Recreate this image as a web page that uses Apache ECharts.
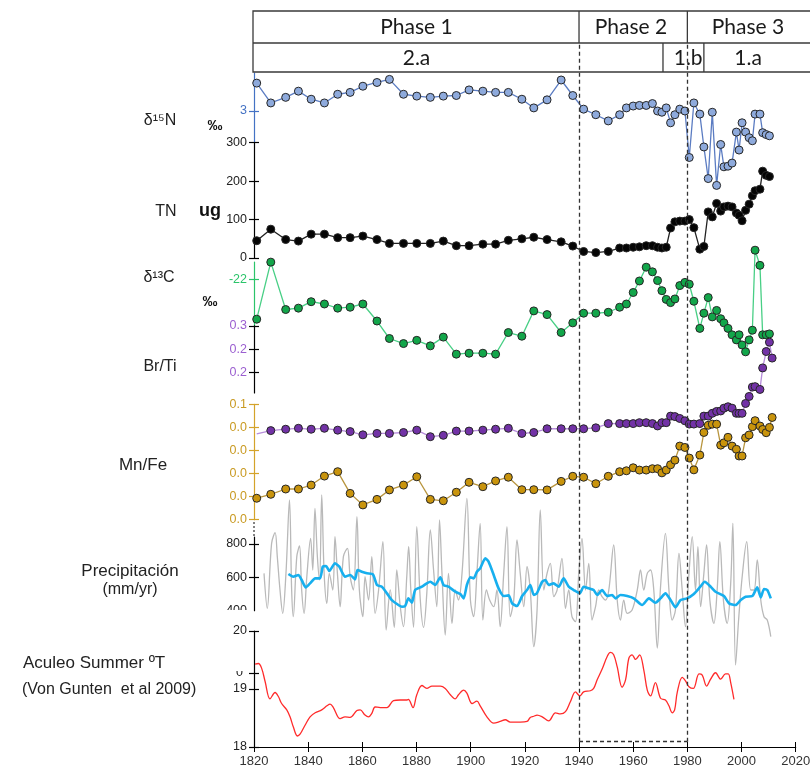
<!DOCTYPE html>
<html><head><meta charset="utf-8">
<script src="https://cdn.jsdelivr.net/npm/echarts@6/dist/echarts.min.js"></script>
<style>html,body{margin:0;padding:0;background:#fff}#c{width:810px;height:767px}</style>
</head><body><div id="c"></div>
<script>
// ---- core sample ages (shared by the isotope, TN and XRF records) ----
const coreYears = [1821.0,1826.2,1831.7,1836.4,1841.1,1846.0,1850.9,1855.5,1860.2,1865.4,1870.0,1875.2,1880.1,1885.1,1889.9,1894.7,1899.4,1904.5,1909.2,1913.9,1918.9,1923.3,
  1928.2,1933.4,1937.7,1941.7,1946.2,1950.8,1955.0,1957.5,1960.0,1962.3,1964.8,1967.1,1969.0,1970.6,1972.2,1973.8,1975.4,1977.2,1979.1,1980.7,
  1982.4,1984.6,1986.1,1987.7,1989.2,1990.8,1992.3,1993.5,1995.0,1996.5,1998.1,1999.1,2000.2,2001.5,2002.8,2004.0,2005.0,2006.8,2007.8,2009.1,2010.3];
const xrfYears = coreYears.concat([2011.3]);

const d15N = [3.45,3.13,3.22,3.32,3.19,3.13,3.27,3.30,3.40,3.46,3.51,3.27,3.24,3.22,3.24,3.25,3.34,3.32,3.30,3.30,3.19,3.05,
  3.18,3.50,3.25,3.03,2.94,2.84,2.94,3.05,3.08,3.09,3.09,3.12,3.00,2.98,3.05,2.81,2.94,3.03,3.00,2.25,
  3.13,2.95,2.42,1.91,2.98,1.80,2.46,2.10,2.11,2.16,2.66,2.37,2.81,2.66,2.57,2.52,2.95,2.95,2.65,2.62,2.60];
const tn = [45,75,48,44,62,62,53,53,57,48,38,38,38,38,44,32,32,36,36,46,50,54,
  48,42,31,17,14,17,26,26,28,29,32,32,28,26,28,78,94,96,96,100,
  79,23,30,120,107,142,122,133,135,133,117,111,97,124,140,162,175,179,226,215,212];
const d13C = [-22.86,-21.62,-22.65,-22.62,-22.48,-22.53,-22.62,-22.60,-22.53,-22.90,-23.28,-23.39,-23.32,-23.44,-23.25,-23.62,-23.60,-23.60,-23.62,-23.15,-23.23,-22.68,
  -22.76,-23.15,-22.94,-22.73,-22.73,-22.71,-22.60,-22.53,-22.28,-22.03,-21.73,-21.83,-22.02,-22.24,-22.43,-22.50,-22.42,-22.13,-22.06,-22.10,
  -22.47,-23.06,-22.73,-22.39,-22.81,-22.67,-22.85,-22.94,-23.06,-23.20,-23.31,-23.20,-23.42,-23.57,-23.31,-23.10,-21.36,-21.69,-23.20,-23.20,-23.18];
const brTi = [0.019,0.026,0.029,0.031,0.029,0.031,0.027,0.024,0.017,0.020,0.020,0.022,0.027,0.013,0.016,0.025,0.025,0.027,0.029,0.031,0.020,0.022,
  0.030,0.030,0.030,0.030,0.032,0.041,0.041,0.041,0.041,0.043,0.043,0.041,0.036,0.043,0.043,0.057,0.056,0.052,0.047,0.040,
  0.040,0.041,0.057,0.057,0.063,0.067,0.068,0.074,0.077,0.074,0.063,0.063,0.063,0.084,0.099,0.119,0.120,0.114,0.160,0.195,0.215,0.181];
const mnFe = [0.0093,0.0110,0.0133,0.0133,0.0150,0.0189,0.0208,0.0114,0.0064,0.0088,0.0129,0.0150,0.0186,0.0088,0.0082,0.0119,0.0162,0.0143,0.0168,0.0184,0.0130,0.0130,
  0.0129,0.0166,0.0188,0.0184,0.0156,0.0188,0.0208,0.0212,0.0225,0.0215,0.0215,0.0221,0.0221,0.0203,0.0215,0.0238,0.0258,0.0319,0.0313,0.0267,
  0.0216,0.0280,0.0378,0.0409,0.0414,0.0414,0.0323,0.0333,0.0357,0.0319,0.0305,0.0276,0.0276,0.0355,0.0367,0.0403,0.0429,0.0406,0.0391,0.0377,0.0400,0.0443];

// ---- Santiago annual precipitation (mm/yr) and its running mean ----
const precipYears = [1823.7,1824.9,1826.5,1827.8,1828.6,1829.6,1830.6,1831.8,1833.1,1833.9,1834.5,1835.8,1836.8,1837.6,1838.5,1839.5,1840.9,1841.7,1842.5,1843.4,1844.2,1845.0,1845.9,1846.9,1847.8,1849.1,1849.9,1850.8,1851.8,1853.0,1854.5,1855.5,1856.7,1858.0,1858.9,1860.2,1861.0,1862.3,1863.5,1864.7,1866.0,1867.6,1868.8,1870.3,1871.8,1872.7,1874.0,1875.2,1876.4,1877.1,1877.9,1878.9,1880.1,1881.4,1882.6,1883.8,1885.1,1886.3,1887.5,1888.5,1889.4,1890.6,1891.8,1893.1,1894.3,1895.5,1896.8,1898.6,1899.9,1901.1,1902.3,1903.5,1904.5,1905.8,1907.0,1908.5,1909.7,1910.9,1912.2,1913.4,1914.6,1915.9,1917.1,1918.3,1919.6,1920.8,1922.0,1923.3,1924.5,1925.7,1927.0,1928.2,1929.4,1930.7,1931.9,1933.7,1935.0,1936.2,1937.4,1938.7,1939.9,1941.1,1942.4,1943.6,1944.8,1946.1,1947.3,1948.5,1949.8,1951.0,1952.8,1954.1,1955.3,1956.5,1957.8,1959.6,1961.5,1962.7,1963.9,1965.2,1966.4,1967.6,1968.9,1970.1,1971.9,1973.2,1974.4,1975.6,1976.9,1978.1,1979.3,1980.6,1981.8,1983.0,1983.9,1984.9,1986.1,1987.1,1988.3,1989.8,1991.0,1992.0,1993.3,1994.7,1996.0,1996.8,1997.8,1999.0,2000.3,2001.9,2003.4,2004.6,2005.8,2007.1,2008.3,2009.5,2010.8];
const precipValues = [624,414,804,868,724,524,384,624,1064,524,364,724,788,524,384,604,834,644,1014,724,584,1094,624,444,624,524,844,624,424,724,774,604,524,964,524,364,604,464,724,384,524,814,284,524,300,644,424,304,604,784,524,300,904,464,300,504,884,644,424,944,624,254,624,324,524,464,624,1074,464,364,624,924,344,524,464,424,524,304,624,904,364,464,824,624,424,664,524,184,400,1004,524,624,684,484,524,714,414,524,364,334,624,834,524,684,344,424,524,484,464,524,794,464,344,464,384,404,524,644,524,624,644,524,176,544,864,524,344,404,744,524,304,624,844,524,784,424,624,794,464,324,524,814,464,324,564,924,74,364,614,814,524,524,704,464,364,344,244];
const maYears = [1832.7,1834.5,1836.4,1837.6,1839.1,1840.7,1842.6,1844.4,1845.4,1846.6,1847.8,1849.9,1851.5,1852.4,1853.6,1855.5,1857.3,1858.2,1859.8,1861.7,1863.9,1865.4,1867.2,1869.1,1870.9,1872.8,1874.6,1875.8,1877.0,1878.3,1879.5,1882.0,1883.8,1885.1,1886.9,1888.8,1890.0,1891.8,1894.3,1896.2,1897.4,1898.6,1899.9,1901.1,1902.3,1903.5,1905.4,1906.6,1908.5,1910.3,1912.2,1914.0,1915.3,1917.1,1919.0,1920.8,1922.0,1923.3,1924.4,1926.4,1927.6,1928.8,1930.6,1932.5,1934.3,1936.2,1938.0,1940.3,1941.7,1943.6,1945.4,1946.7,1948.5,1950.4,1952.2,1953.5,1955.3,1957.8,1960.2,1963.3,1965.8,1968.2,1970.1,1971.9,1973.8,1975.6,1977.5,1979.9,1982.4,1984.8,1986.4,1988.6,1990.4,1993.5,1995.4,1997.8,1999.7,2001.5,2004.0,2005.8,2007.1,2008.3,2009.5,2010.8];
const maValues = [620,604,614,584,540,564,594,594,664,668,638,684,664,634,604,614,588,644,634,624,618,554,544,504,464,440,424,428,474,448,524,544,564,574,554,600,554,544,514,500,474,554,600,594,634,654,714,694,614,534,488,492,444,428,488,524,554,494,504,574,584,554,564,544,594,544,524,504,544,534,524,494,524,488,494,474,494,488,474,434,474,448,474,504,464,420,464,474,500,544,574,544,514,488,444,434,464,484,488,540,480,530,524,474];

// ---- Aculeo summer temperature reconstruction (°C) ----
const tempYears = [1820.4,1821.6,1822.8,1824.1,1825.9,1827.8,1829.0,1830.2,1832.1,1833.3,1834.5,1836.0,1837.0,1838.9,1840.7,1842.6,1845.0,1846.9,1848.1,1849.3,1851.8,1853.6,1855.5,1858.0,1859.2,1861.0,1862.3,1863.5,1864.7,1866.6,1869.1,1871.5,1874.0,1876.5,1877.0,1878.7,1880.1,1882.0,1883.8,1885.7,1888.8,1890.6,1892.5,1894.3,1895.5,1897.4,1898.6,1900.5,1902.3,1903.5,1906.0,1908.5,1910.9,1912.8,1914.6,1918.3,1920.8,1922.0,1923.3,1924.5,1926.4,1928.8,1931.3,1933.1,1935.0,1936.8,1938.7,1940.3,1941.7,1944.2,1945.4,1946.7,1948.5,1950.4,1951.6,1952.8,1954.1,1955.9,1957.2,1958.4,1959.6,1960.9,1962.4,1963.9,1965.2,1966.4,1968.2,1970.1,1971.9,1973.2,1974.4,1975.3,1976.3,1978.1,1979.3,1980.6,1982.2,1984.3,1985.5,1987.1,1988.6,1990.4,1992.3,1994.1,1995.1,1996.0,1997.2];
const tempValues = [19.43,19.44,19.36,19.13,18.83,18.94,18.87,18.75,18.64,18.52,18.35,18.19,18.22,18.38,18.52,18.59,18.64,18.71,18.74,18.68,18.49,18.52,18.51,18.63,18.64,18.55,18.52,18.58,18.69,18.68,18.68,18.80,18.81,18.81,18.82,18.68,18.90,19.06,19.01,19.05,19.05,19.01,18.90,18.83,18.90,18.98,18.93,18.75,18.79,18.71,18.52,18.41,18.44,18.47,18.43,18.43,18.44,18.51,18.53,18.55,18.52,18.45,18.59,18.57,18.61,18.78,18.95,18.88,18.95,18.97,19.01,19.16,19.34,19.56,19.63,19.59,19.38,19.03,19.16,19.53,19.59,19.51,19.59,19.33,18.98,18.88,19.11,18.84,18.81,18.71,18.59,18.64,18.95,19.20,19.14,19.04,19.01,19.26,19.24,19.05,19.17,19.28,19.17,19.26,19.26,19.11,18.82];

// ---- header: phases and units, dashed box limits ----
const phaseNames = ['Phase 1', 'Phase 2', 'Phase 3'];
const phaseLabelYears = [1880, 1959.2, 2002.4];
const phaseBreaks = [1940, 1980];
const unitNames = ['2.a', '1.b', '1.a'];
const unitLabelYears = [1880, 1980.3, 2002.4];
const unitBreaks = [1971.0, 1986.1];

const pairs = (xs, ys) => xs.map((x, i) => [x, ys[i]]);
const dec1 = v => (Math.round(v * 10 + 1e-9) / 10).toFixed(1);
const AX = 'Liberation Sans, Arial, sans-serif';

// stacked panels (pixel layout)
const L = 254, W = 541.7;
const panels = [
  {top: 73,    h: 69,    min: 2.5,     max: 3.613,   color: '#4472c4', lab: '#4472c4', ticks: [3], labels: [3], fmt: () => '3'},
  {top: 142.7, h: 115.3, min: 0,       max: 300,     color: '#000',    lab: '#222',    ticks: [0, 100, 200, 300], labels: [0, 100, 200, 300]},
  {top: 262,   h: 65,    min: -23.03,  max: -21.617, color: '#2bc46a', lab: '#2bc46a', ticks: [-22], labels: [-22]},
  {top: 325.8, h: 67.2,  min: 0.1064,  max: 0.25,    color: '#000',    lab: '#9b5fd0', ticks: [0.15, 0.2, 0.25], labels: [0.15, 0.2, 0.25], fmt: dec1},
  {top: 404.3, h: 115.4, min: 0,       max: 0.05,    color: '#d4a32a', lab: '#c99a22', ticks: [0, 0.01, 0.02, 0.03, 0.04, 0.05], labels: [0, 0.01, 0.02, 0.03, 0.04, 0.05], fmt: dec1},
  {top: 537,   h: 73.7,  min: 400,     max: 842,     color: '#000',    lab: '#222',    ticks: [600, 800], labels: [400, 600, 800]},
  {top: 631,   h: 116,   min: 18,      max: 20,      color: '#000',    lab: '#222',    ticks: [18, 19, 19.28, 20], labels: [18, 19, 20]},
  {top: 43,    h: 698.7, min: 0,       max: 1,       overlay: true}
];

const grid = [], xAxis = [], yAxis = [];
panels.forEach((p, g) => {
  grid.push({left: L, width: W, top: p.top, height: p.h, containLabel: false, outerBoundsMode: 'none'});
  const bottom = g === 6;
  xAxis.push({
    type: 'value', gridIndex: g, min: 1820, max: 2020, interval: 20, show: bottom,
    axisLine: {show: bottom, onZero: false, lineStyle: {color: '#000', width: 1.2}},
    axisTick: {show: bottom, length: 5, lineStyle: {color: '#000'}},
    axisLabel: {show: bottom, color: '#333', fontSize: 13, fontFamily: AX, margin: 8, formatter: v => String(v)},
    splitLine: {show: false}
  });
  if (p.overlay) {
    yAxis.push({type: 'value', gridIndex: g, min: 0, max: 1, show: false});
    return;
  }
  yAxis.push({
    type: 'value', gridIndex: g, min: p.min, max: p.max, position: 'left',
    axisLine: {show: true, onZero: false, lineStyle: {color: p.color, width: 1.2}},
    axisTick: {show: true, length: 5, customValues: p.ticks, lineStyle: {color: p.color, width: 1.2}},
    axisLabel: {customValues: p.labels, formatter: p.fmt, color: p.lab, fontSize: 12.5, fontFamily: AX, margin: 7},
    splitLine: {show: false}
  });
  // inner half of the cross tick marks
  yAxis.push({
    type: 'value', gridIndex: g, min: p.min, max: p.max, position: 'left',
    axisLine: {show: false},
    axisTick: {show: true, inside: true, length: 5, customValues: p.ticks, lineStyle: {color: p.color, width: 1.2}},
    axisLabel: {show: false}, splitLine: {show: false}
  });
});
// inner half of the year ticks
xAxis.push({
  type: 'value', gridIndex: 6, min: 1820, max: 2020, interval: 20, position: 'bottom',
  axisLine: {show: false}, axisTick: {show: true, inside: true, length: 5, lineStyle: {color: '#000'}},
  axisLabel: {show: false}, splitLine: {show: false}
});

const dotted = (name, g, xs, ys, line, fill, extra) => Object.assign({
  name, type: 'line', xAxisIndex: g, yAxisIndex: g * 2, data: pairs(xs, ys), clip: false,
  symbol: 'circle', symbolSize: 8, showSymbol: true,
  lineStyle: {color: line, width: 1.3},
  itemStyle: {color: fill, borderColor: '#262626', borderWidth: 1},
  z: 4
}, extra || {});

const brTiData = pairs(xrfYears, brTi);
brTiData[0] = {value: brTiData[0], symbol: 'none'};

const series = [
  {name: 'Precipitación', type: 'line', xAxisIndex: 5, yAxisIndex: 10, data: pairs(precipYears, precipValues),
   clip: false, symbol: 'none', smooth: 0.35, lineStyle: {color: '#b9b9b9', width: 1.3}, z: 1},
  {name: 'Precipitación media', type: 'line', xAxisIndex: 5, yAxisIndex: 10, data: pairs(maYears, maValues),
   clip: false, symbol: 'none', smooth: 0.2, lineStyle: {color: '#17afee', width: 2.6}, z: 2},
  {name: 'Aculeo Summer T', type: 'line', xAxisIndex: 6, yAxisIndex: 12, data: pairs(tempYears, tempValues),
   clip: false, symbol: 'none', smooth: 0.35, lineStyle: {color: '#ff2b2b', width: 1.3}, z: 2},
  dotted('Mn/Fe', 4, xrfYears, mnFe, '#b8953e', '#c9940c'),
  {...dotted('Br/Ti', 3, xrfYears, brTi, '#b88ddc', '#7232a6'), data: brTiData},
  dotted('δ13C', 2, coreYears, d13C, '#48cf85', '#12a64a'),
  dotted('TN', 1, coreYears, tn, '#222', '#050505'),
  dotted('δ15N', 0, coreYears, d15N, '#5b7cc2', '#8eaadc'),
  {name: 'phases', type: 'line', xAxisIndex: 7, yAxisIndex: 14, data: [[1940, -5]], symbol: 'none',
   lineStyle: {width: 0}, z: 5,
   markLine: {
     silent: true, symbol: ['none', 'none'], label: {show: false}, animation: false,
     lineStyle: {type: [4, 3], color: '#333', width: 1.3},
     data: [{xAxis: phaseBreaks[0]}, {xAxis: phaseBreaks[1]},
            [{coord: [phaseBreaks[0], 0]}, {coord: [phaseBreaks[1], 0]}]]
   }}
];

const chart = echarts.init(document.getElementById('c'), null, {renderer: 'canvas', width: 810, height: 767});
chart.setOption({animation: false, backgroundColor: '#fff', grid, xAxis, yAxis, series});

// header table and side labels
const px = y => chart.convertToPixel({xAxisIndex: 7}, y);
const stroke = {stroke: '#3a3a3a', lineWidth: 1.3};
const HF = 'Lato, "Open Sans", sans-serif';
const g = [];
g.push({type: 'rect', shape: {x: 253, y: 11, width: 600, height: 61}, style: {fill: 'none', ...stroke}, z: 50});
g.push({type: 'line', shape: {x1: 253, y1: 43, x2: 812, y2: 43}, style: stroke, z: 50});
phaseBreaks.forEach(y => g.push({type: 'line', shape: {x1: px(y), y1: 11, x2: px(y), y2: 43}, style: stroke, z: 50}));
unitBreaks.forEach(y => g.push({type: 'line', shape: {x1: px(y), y1: 43, x2: px(y), y2: 72}, style: stroke, z: 50}));
phaseNames.forEach((t, i) => g.push({type: 'text', x: px(phaseLabelYears[i]), y: 27, z: 50,
  style: {text: t, fill: '#1a1a1a', font: '21px ' + HF, align: 'center', verticalAlign: 'middle'}}));
unitNames.forEach((t, i) => g.push({type: 'text', x: px(unitLabelYears[i]), y: 58, z: 50,
  style: {text: t, fill: '#1a1a1a', font: '21px ' + HF, align: 'center', verticalAlign: 'middle'}}));

const LF = 'Liberation Sans, Arial, sans-serif';
const side = [
  ['δ¹⁵N', 160, 121, '16px', 'center'], ['TN', 166, 212, '16px', 'center'], ['δ¹³C', 159, 278, '16px', 'center'],
  ['Br/Ti', 160, 367, '16px', 'center'], ['Mn/Fe', 143, 465, '17px', 'center'],
  ['Precipitación', 130, 571, '17px', 'center'], ['(mm/yr)', 130, 590, '16px', 'center'],
  ['Aculeo Summer ºT', 23, 663, '17px', 'left'], ['(Von Gunten  et al 2009)', 22, 690, '16px', 'left']
];
side.forEach(([t, x, y, fs, al]) => g.push({type: 'text', x, y, z: 50,
  style: {text: t, fill: '#222', font: fs + ' ' + LF, align: al, verticalAlign: 'middle'}}));
[['‰', 215, 126], ['‰', 210, 302]].forEach(([t, x, y]) => g.push({type: 'text', x, y, z: 50,
  style: {text: t, fill: '#111', font: 'bold 15px ' + LF, align: 'center', verticalAlign: 'middle'}}));
g.push({type: 'text', x: 210, y: 211, z: 50, style: {text: 'ug', fill: '#111', font: 'bold 18px ' + LF, align: 'center', verticalAlign: 'middle'}});

// broken axis segment above the precipitation scale
g.push({type: 'line', shape: {x1: L, y1: 522, x2: L, y2: 537}, style: {stroke: '#333', lineWidth: 1.2, lineDash: [2, 2]}, z: 50});
// partly hidden tick label of the temperature scale, and the clipped "400"
g.push({type: 'text', x: 243, y: 672.7, z: 50, style: {text: '0', fill: '#222', font: '12.5px ' + LF, align: 'right', verticalAlign: 'middle'}});
g.push({type: 'rect', shape: {x: 225, y: 662, width: 24, height: 9}, style: {fill: '#fff'}, z: 60});
g.push({type: 'rect', shape: {x: 215, y: 610, width: 34, height: 10}, style: {fill: '#fff'}, z: 60});

chart.setOption({graphic: g});
</script></body></html>
